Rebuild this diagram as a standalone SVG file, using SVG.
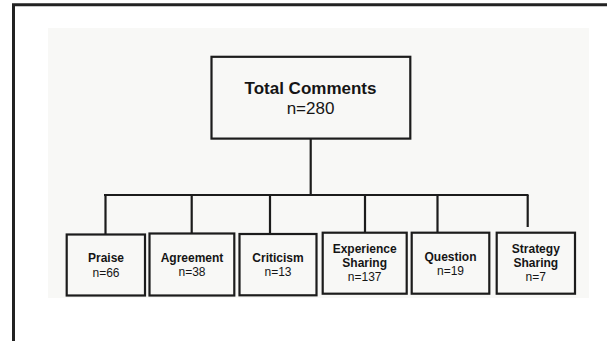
<svg xmlns="http://www.w3.org/2000/svg" width="607" height="341" viewBox="0 0 607 341">
<style>
.box{fill:#f8f8f6;stroke:#1c1c1c;stroke-width:2.2}
.ln{stroke:#1c1c1c;stroke-width:2.2;fill:none}
.t{font-family:"Liberation Sans",Arial,sans-serif;fill:#151515;text-anchor:middle}
.b{font-weight:bold}
.s{font-size:12px}
.l{font-size:17px}
</style>
<rect x="0" y="0" width="607" height="341" fill="#ffffff"/>
<path d="M13.5 345 V4.7 H612" fill="none" stroke="#222" stroke-width="3"/>
<rect x="48" y="28" width="541" height="270" fill="#f8f8f6"/>
<g id="connectors">
<path class="ln" d="M310.7 138.7 V195"/>
<path class="ln" d="M104 195 H528.5"/>
<path class="ln" d="M105.5 195 V234.5"/>
<path class="ln" d="M191.7 195 V233.5"/>
<path class="ln" d="M270 195 V233.5"/>
<path class="ln" d="M365 195 V232.5"/>
<path class="ln" d="M437.5 195 V232.5"/>
<path class="ln" d="M527.7 195 V227"/>
</g>
<g id="total">
<rect class="box" x="211.5" y="56.8" width="198.8" height="81.8"/>
<text class="t b l" x="310.5" y="94">Total Comments</text>
<text class="t l" x="310.5" y="114">n=280</text>
</g>
<g id="praise">
<rect class="box" x="66.7" y="234.5" width="78.3" height="61"/>
<text class="t b s" x="106" y="262.3">Praise</text>
<text class="t s" x="106" y="276.7">n=66</text>
</g>
<g id="agreement">
<rect class="box" x="149.5" y="233.5" width="84.8" height="62"/>
<text class="t b s" x="192" y="261.7">Agreement</text>
<text class="t s" x="192" y="275.7">n=38</text>
</g>
<g id="criticism">
<rect class="box" x="239.5" y="234" width="77" height="61.3"/>
<text class="t b s" x="278" y="261.7">Criticism</text>
<text class="t s" x="278" y="275.7">n=13</text>
</g>
<g id="experience">
<rect class="box" x="322.7" y="232.7" width="84" height="61"/>
<text class="t b s" x="364.7" y="252.7">Experience</text>
<text class="t b s" x="364.7" y="267.3">Sharing</text>
<text class="t s" x="364.7" y="281">n=137</text>
</g>
<g id="question">
<rect class="box" x="411.7" y="232.7" width="77.6" height="61"/>
<text class="t b s" x="450.5" y="260.7">Question</text>
<text class="t s" x="450.5" y="274.7">n=19</text>
</g>
<g id="strategy">
<rect class="box" x="496.7" y="232.7" width="78.3" height="61"/>
<text class="t b s" x="535.8" y="253.3">Strategy</text>
<text class="t b s" x="535.8" y="267.3">Sharing</text>
<text class="t s" x="535.8" y="281">n=7</text>
</g>
</svg>
